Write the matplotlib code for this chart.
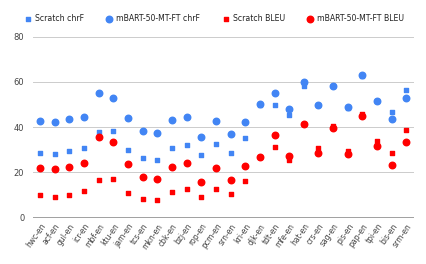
import numpy as np
import matplotlib
matplotlib.use("Agg")
import matplotlib.pyplot as plt

# language pairs along x
pairs = ["hwc-en", "acf-en", "gul-en", "icr-en", "mbf-en", "ktu-en", "jam-en",
         "tcs-en", "mkn-en", "cbk-en", "bzj-en", "rop-en", "pcm-en", "srn-en",
         "kri-en", "djk-en", "tdt-en", "mfe-en", "hat-en", "crs-en", "sag-en",
         "pis-en", "pap-en", "tpi-en", "bis-en", "srm-en"]

scratch_chrf = [28.7, 28.3, 29.6, 30.8, 37.7, 38.3, 29.8, 26.5, 25.5, 30.7, 32.0,
                27.7, 32.7, 28.7, 35.4, 50.0, 49.8, 45.4, 58.2, 49.6, 58.0,
                48.6, 62.8, 51.4, 46.9, 56.4]
mbart_chrf = [42.6, 42.3, 43.5, 44.4, 55.0, 53.0, 43.9, 38.3, 37.3, 43.2, 44.4,
              35.5, 42.9, 36.9, 42.2, 50.3, 55.0, 48.2, 60.1, 49.8, 58.1,
              48.8, 62.9, 51.6, 43.6, 52.9]
scratch_bleu = [9.9, 9.3, 10.0, 11.8, 16.5, 17.0, 11.0, 8.3, 7.8, 11.5, 12.6,
                9.1, 12.8, 10.6, 16.4, 27.0, 31.2, 25.6, 41.2, 30.7, 40.5,
                29.5, 45.7, 34.0, 28.6, 38.8]
mbart_bleu = [22.0, 21.5, 22.3, 24.3, 35.7, 33.3, 23.6, 18.0, 17.0, 22.4, 24.2,
              15.9, 22.1, 16.7, 22.7, 27.0, 36.6, 27.4, 41.3, 28.7, 39.5,
              28.3, 44.9, 31.7, 23.3, 33.5]

BLUE = "#4285F4"
RED = "#FF0000"

fig = plt.figure(figsize=(4.27, 2.64), dpi=100)
ax = fig.add_axes([0.0766, 0.1754, 0.8924, 0.6856])

x = np.arange(len(pairs))
ax.scatter(x, scratch_chrf, marker="s", s=9, color=BLUE, label="Scratch chrF", zorder=3)
ax.scatter(x, mbart_chrf, marker="o", s=22, color=BLUE, label="mBART-50-MT-FT chrF", zorder=3)
ax.scatter(x, scratch_bleu, marker="s", s=9, color=RED, label="Scratch BLEU", zorder=3)
ax.scatter(x, mbart_bleu, marker="o", s=22, color=RED, label="mBART-50-MT-FT BLEU", zorder=3)

ax.set_xlim(-0.5, len(pairs) - 0.5)
ax.set_ylim(0, 80)
ax.set_yticks([0, 20, 40, 60, 80])
ax.set_xticks(x)
ax.set_xticklabels(pairs, rotation=55, ha="right", rotation_mode="anchor",
                   fontsize=5.5, color="#444444")
ax.tick_params(axis="y", labelsize=6, colors="#444444", length=0, pad=6)
ax.tick_params(axis="x", length=0, pad=3)
ax.grid(axis="y", color="#cccccc", linewidth=0.7, zorder=0)
ax.axhline(0, color="#999999", linewidth=1.3, zorder=1)
for sp in ax.spines.values():
    sp.set_visible(False)

leg = fig.legend(loc="upper center", bbox_to_anchor=(0.5, 0.975), ncol=4, frameon=False,
                 fontsize=5.6, handletextpad=0.25, columnspacing=2.6, markerscale=1.0,
                 handlelength=1.3)
for t in leg.get_texts():
    t.set_color("#222222")

fig.savefig("out.png", dpi=100)
